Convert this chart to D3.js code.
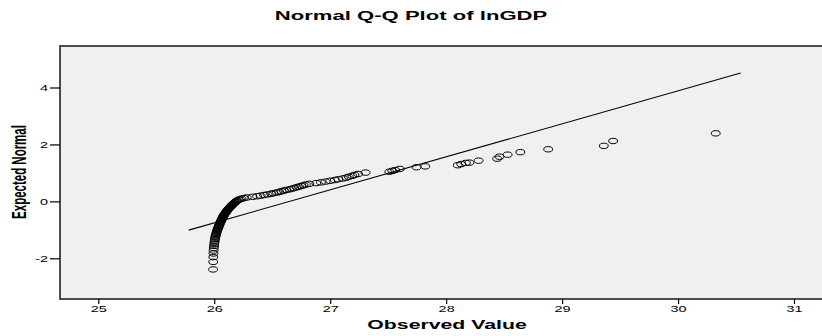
<!DOCTYPE html>
<html>
<head>
<meta charset="utf-8">
<script src="https://cdn.jsdelivr.net/npm/d3@7"></script>
<style>
  body { margin: 0; background: #fff; }
  text { font-family: "Liberation Sans", Arial, sans-serif; fill: #000; }
</style>
</head>
<body>
<svg id="chart" width="822" height="336"></svg>
<script>
// observed lnGDP values (sorted) and their expected normal scores
var observed = [
  25.990, 25.991, 25.992, 25.993, 25.994, 25.996, 25.998, 26.000, 26.002, 26.004,
  26.006, 26.008, 26.011, 26.013, 26.016, 26.019, 26.022, 26.025, 26.028, 26.031,
  26.034, 26.037, 26.040, 26.043, 26.046, 26.049, 26.052, 26.055, 26.058, 26.061,
  26.064, 26.067, 26.070, 26.073, 26.076, 26.079, 26.082, 26.086, 26.090, 26.094,
  26.098, 26.102, 26.106, 26.110, 26.114, 26.118, 26.122, 26.127, 26.132, 26.137,
  26.142, 26.147, 26.152, 26.157, 26.162, 26.168, 26.174, 26.180, 26.186, 26.193,
  26.200, 26.210, 26.222, 26.236, 26.255, 26.280,
  26.33, 26.37, 26.40, 26.43, 26.46, 26.49, 26.51, 26.54, 26.56, 26.58,
  26.60, 26.62, 26.65, 26.67, 26.69, 26.71, 26.73, 26.75, 26.77, 26.79,
  26.82, 26.88, 26.92, 26.96, 27.00, 27.04, 27.07, 27.11, 27.14, 27.16,
  27.19, 27.21, 27.24,
  27.305, 27.51, 27.535, 27.56, 27.60, 27.745, 27.82, 28.10, 28.13, 28.17,
  28.20, 28.28, 28.44, 28.46, 28.53, 28.64, 28.88, 29.36, 29.44, 30.325
];
var expected = [
  -2.391, -2.125, -1.957, -1.830, -1.728, -1.641, -1.565, -1.497, -1.435, -1.378,
  -1.326, -1.277, -1.230, -1.187, -1.146, -1.106, -1.068, -1.031, -0.996, -0.962,
  -0.929, -0.897, -0.866, -0.835, -0.806, -0.777, -0.749, -0.722, -0.695, -0.668,
  -0.642, -0.616, -0.591, -0.566, -0.541, -0.517, -0.493, -0.469, -0.446, -0.423,
  -0.400, -0.377, -0.355, -0.332, -0.310, -0.288, -0.266, -0.244, -0.223, -0.201,
  -0.180, -0.159, -0.137, -0.116, -0.095, -0.074, -0.053, -0.032, -0.011, 0.011,
  0.032, 0.053, 0.074, 0.095, 0.116, 0.137,
  0.159, 0.180, 0.201, 0.223, 0.244, 0.266, 0.288, 0.310, 0.332, 0.355,
  0.377, 0.400, 0.423, 0.446, 0.469, 0.493, 0.517, 0.541, 0.566, 0.591,
  0.616, 0.642, 0.668, 0.695, 0.722, 0.749, 0.777, 0.806, 0.835, 0.866,
  0.897, 0.929, 0.962,
  1.01, 1.04, 1.07, 1.10, 1.14, 1.20, 1.23, 1.27, 1.31, 1.35,
  1.36, 1.43, 1.50, 1.57, 1.64, 1.73, 1.83, 1.95, 2.12, 2.39
];

// reference line end points
var lineX = [25.78, 30.54];
var lineY = [-1.01, 4.51];

var xTicks = [25, 26, 27, 28, 29, 30, 31];
var yTicks = [-2, 0, 2, 4];

var stretch = 1.7; // picture is wider than tall, text is stretched too

var svg = d3.select("#chart");

var frame = { left: 60, top: 46, right: 824, bottom: 299 };

var x = d3.scaleLinear().domain([25, 31]).range([98.3, 794]);
var y = d3.scaleLinear().domain([-2, 4]).range([258.3, 87.5]);

svg.append("rect")
    .attr("x", frame.left)
    .attr("y", frame.top)
    .attr("width", frame.right - frame.left)
    .attr("height", frame.bottom - frame.top)
    .attr("fill", "#f0f0f0")
    .attr("stroke", "#222")
    .attr("stroke-width", 1.6);

// title
svg.append("text")
    .attr("transform", "translate(411,20) scale(" + stretch + ",1)")
    .attr("text-anchor", "middle")
    .style("font-size", "13px")
    .style("font-weight", "bold")
    .text("Normal Q-Q Plot of lnGDP");

// x axis
var xAxis = svg.append("g")
    .attr("transform", "translate(0," + frame.bottom + ")")
    .call(d3.axisBottom(x).tickValues(xTicks).tickSize(5).tickSizeOuter(0).tickFormat(d3.format("d")));
xAxis.select(".domain").remove();
xAxis.selectAll(".tick line").attr("stroke", "#000").attr("stroke-width", 1.2);
xAxis.selectAll(".tick text")
    .attr("y", 7)
    .attr("transform", "scale(" + stretch + ",1)")
    .style("font-size", "8.5px")
    .attr("fill", "#000");

// y axis
var yAxis = svg.append("g")
    .attr("transform", "translate(" + frame.left + ",0)")
    .call(d3.axisLeft(y).tickValues(yTicks).tickSize(10).tickSizeOuter(0).tickFormat(d3.format("d")));
yAxis.select(".domain").remove();
yAxis.selectAll(".tick line").attr("stroke", "#000").attr("stroke-width", 1.2);
yAxis.selectAll(".tick text")
    .attr("x", -12 / stretch)
    .attr("transform", "scale(" + stretch + ",1)")
    .style("font-size", "8.5px")
    .attr("fill", "#000")
    .text(function(d) { return d < 0 ? "-" + Math.abs(d) : d; });

// axis titles
svg.append("text")
    .attr("transform", "translate(447,329) scale(" + stretch + ",1)")
    .attr("text-anchor", "middle")
    .style("font-size", "12.5px")
    .style("font-weight", "bold")
    .text("Observed Value");

svg.append("text")
    .attr("transform", "translate(26,172) scale(" + stretch + ",1) rotate(-90)")
    .attr("text-anchor", "middle")
    .style("font-size", "11.5px")
    .style("font-weight", "bold")
    .text("Expected Normal");

// reference line
svg.append("line")
    .attr("x1", x(lineX[0])).attr("y1", y(lineY[0]))
    .attr("x2", x(lineX[1])).attr("y2", y(lineY[1]))
    .attr("stroke", "#000")
    .attr("stroke-width", 1.1);

// points
svg.append("g").selectAll("ellipse")
    .data(observed.map(function(v, i) { return [v, expected[i]]; }))
    .enter().append("ellipse")
      .attr("cx", function(d) { return x(d[0]); })
      .attr("cy", function(d) { return y(d[1]); })
      .attr("rx", 4.4)
      .attr("ry", 2.7)
      .attr("fill", "none")
      .attr("stroke", "#000")
      .attr("stroke-width", 1);
</script>
</body>
</html>
